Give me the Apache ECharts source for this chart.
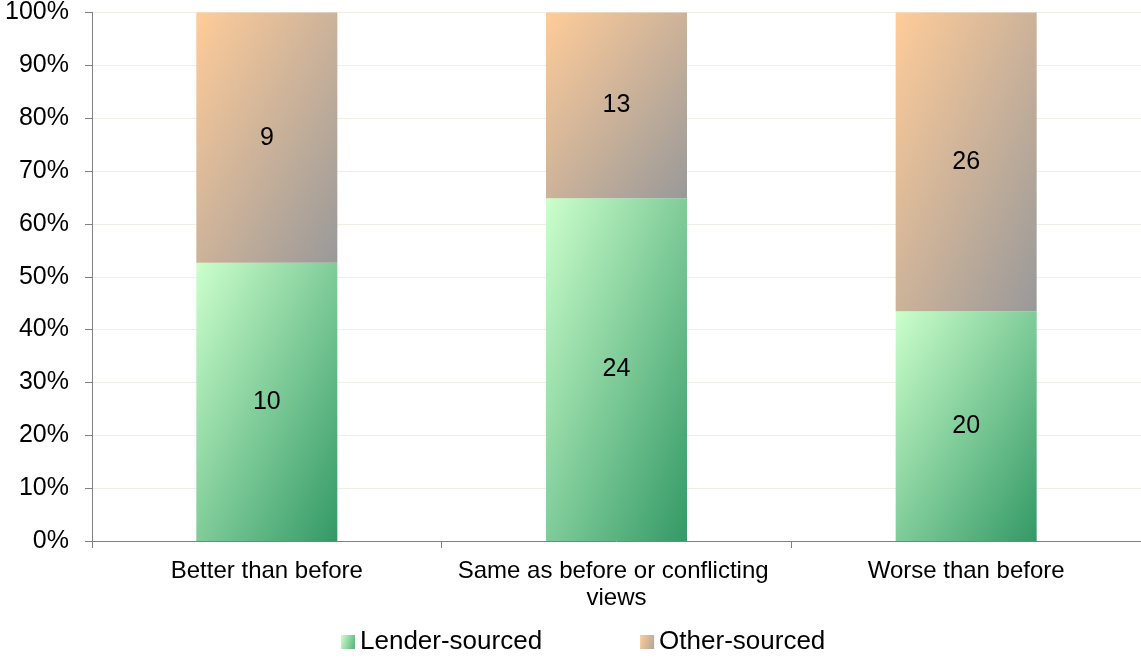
<!DOCTYPE html>
<html>
<head>
<meta charset="utf-8">
<script src="https://cdn.jsdelivr.net/npm/echarts@6/dist/echarts.min.js"></script>
<style>
  html, body { margin: 0; padding: 0; background: #fff; }
  #chart { width: 1141px; height: 660px; }
</style>
</head>
<body>
<div id="chart"></div>
<script>
const categories = ['Better than before', 'Same as before or conflicting views', 'Worse than before']
const lenderCounts = [10, 24, 20]
const otherCounts = [9, 13, 26]
const seriesNames = ['Lender-sourced', 'Other-sourced']
const yTicks = { min: 0, max: 100, interval: 10 }

const font = 'Liberation Sans, Arial, sans-serif'
const barW = 141
const plotH = 529

function toShare(counts) {
  return counts.map((c, i) => c / (lenderCounts[i] + otherCounts[i]) * 100)
}

// diagonal gradient scaled with the shape (isolines along the anti-diagonal)
function grad(share, c0, c1) {
  let w = barW
  let h = share / 100 * plotH
  let d = w * w + h * h
  return new echarts.graphic.LinearGradient(0, 0, 2 * h * h / d, 2 * w * w / d, [
    { offset: 0, color: c0 },
    { offset: 1, color: c1 }
  ])
}

function makeSeries(name, counts, c0, c1) {
  return {
    name: name,
    type: 'bar',
    stack: 'total',
    barWidth: barW,
    itemStyle: { color: grad(50, c0, c1) },
    label: {
      show: true,
      position: 'inside',
      color: '#000',
      fontFamily: font,
      fontSize: 25,
      formatter: p => counts[p.dataIndex]
    },
    data: toShare(counts).map(v => ({ value: v, itemStyle: { color: grad(v, c0, c1) } }))
  }
}

let myChart = echarts.init(document.getElementById('chart'), null, { renderer: 'canvas' })
myChart.setOption({
  animation: false,
  grid: { left: 92, right: -1, top: 12, bottom: 119, containLabel: false },
  legend: {
    bottom: 0,
    left: 336,
    icon: 'rect',
    itemWidth: 14,
    itemHeight: 14,
    itemGap: 98,
    textStyle: { color: '#000', fontSize: 26, fontFamily: font },
    data: seriesNames
  },
  xAxis: {
    type: 'category',
    data: categories,
    axisLine: { lineStyle: { color: '#808080', width: 1 } },
    axisTick: { show: true, length: 7, lineStyle: { color: '#808080' } },
    axisLabel: {
      color: '#000',
      fontSize: 24,
      fontFamily: font,
      margin: 17,
      width: 330,
      overflow: 'break',
      lineHeight: 27,
      interval: 0
    }
  },
  yAxis: {
    type: 'value',
    min: yTicks.min,
    max: yTicks.max,
    interval: yTicks.interval,
    axisLine: { show: true, lineStyle: { color: '#808080' } },
    axisTick: { show: true, length: 7, lineStyle: { color: '#808080' } },
    axisLabel: {
      color: '#000',
      fontSize: 25,
      fontFamily: font,
      margin: 23,
      formatter: '{value}%'
    },
    splitLine: { show: true, lineStyle: { color: '#efefe4' } }
  },
  series: [
    makeSeries(seriesNames[0], lenderCounts, '#ccffcc', '#339966'),
    makeSeries(seriesNames[1], otherCounts, '#ffcc99', '#999999')
  ]
})
</script>
</body>
</html>
